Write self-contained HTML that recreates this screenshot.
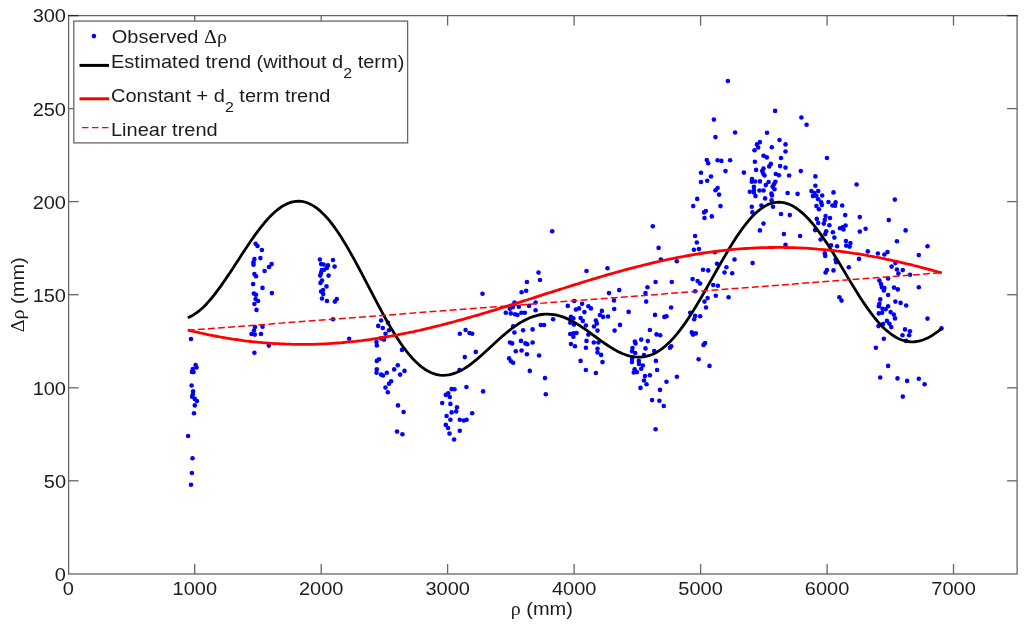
<!DOCTYPE html>
<html><head><meta charset="utf-8"><title>Observed Δρ vs ρ</title>
<style>
html,body{margin:0;padding:0;background:#fff;}
svg{display:block;}
text{font-family:"Liberation Sans",sans-serif;font-size:20px;fill:#1c1c1c;}
.gr{font-family:"Liberation Serif","DejaVu Serif",serif;}
</style></head><body>
<svg width="1024" height="627" viewBox="0 0 1024 627">
<rect x="0" y="0" width="1024" height="627" fill="#fff"/>

<g stroke="#666" stroke-width="1.3" fill="none">
<rect x="68.6" y="15.6" width="948.5" height="558.4"/>
<line x1="194.7" y1="574.0" x2="194.7" y2="564.0"/><line x1="194.7" y1="15.6" x2="194.7" y2="25.6"/>
<line x1="321.2" y1="574.0" x2="321.2" y2="564.0"/><line x1="321.2" y1="15.6" x2="321.2" y2="25.6"/>
<line x1="447.6" y1="574.0" x2="447.6" y2="564.0"/><line x1="447.6" y1="15.6" x2="447.6" y2="25.6"/>
<line x1="574.1" y1="574.0" x2="574.1" y2="564.0"/><line x1="574.1" y1="15.6" x2="574.1" y2="25.6"/>
<line x1="700.6" y1="574.0" x2="700.6" y2="564.0"/><line x1="700.6" y1="15.6" x2="700.6" y2="25.6"/>
<line x1="827.1" y1="574.0" x2="827.1" y2="564.0"/><line x1="827.1" y1="15.6" x2="827.1" y2="25.6"/>
<line x1="953.5" y1="574.0" x2="953.5" y2="564.0"/><line x1="953.5" y1="15.6" x2="953.5" y2="25.6"/>
<line x1="68.6" y1="480.8" x2="78.6" y2="480.8"/><line x1="1017.1" y1="480.8" x2="1007.1" y2="480.8"/>
<line x1="68.6" y1="387.8" x2="78.6" y2="387.8"/><line x1="1017.1" y1="387.8" x2="1007.1" y2="387.8"/>
<line x1="68.6" y1="294.7" x2="78.6" y2="294.7"/><line x1="1017.1" y1="294.7" x2="1007.1" y2="294.7"/>
<line x1="68.6" y1="201.6" x2="78.6" y2="201.6"/><line x1="1017.1" y1="201.6" x2="1007.1" y2="201.6"/>
<line x1="68.6" y1="108.6" x2="78.6" y2="108.6"/><line x1="1017.1" y1="108.6" x2="1007.1" y2="108.6"/>
<g stroke="#2a2a2a"><line x1="68.0" y1="15.6" x2="78.6" y2="15.6"/><line x1="1017.7" y1="15.6" x2="1007.1" y2="15.6"/></g>
</g>
<text transform="translate(68.3,594.7) scale(1,0.96)" text-anchor="middle">0</text>
<text transform="translate(194.8,594.7) scale(1,0.96)" text-anchor="middle">1000</text>
<text transform="translate(321.2,594.7) scale(1,0.96)" text-anchor="middle">2000</text>
<text transform="translate(447.7,594.7) scale(1,0.96)" text-anchor="middle">3000</text>
<text transform="translate(574.2,594.7) scale(1,0.96)" text-anchor="middle">4000</text>
<text transform="translate(700.6,594.7) scale(1,0.96)" text-anchor="middle">5000</text>
<text transform="translate(827.1,594.7) scale(1,0.96)" text-anchor="middle">6000</text>
<text transform="translate(953.6,594.7) scale(1,0.96)" text-anchor="middle">7000</text>
<text transform="translate(66.0,580.8) scale(1,0.96)" text-anchor="end">0</text>
<text transform="translate(66.0,487.7) scale(1,0.96)" text-anchor="end">50</text>
<text transform="translate(66.0,394.7) scale(1,0.96)" text-anchor="end">100</text>
<text transform="translate(66.0,301.6) scale(1,0.96)" text-anchor="end">150</text>
<text transform="translate(66.0,208.5) scale(1,0.96)" text-anchor="end">200</text>
<text transform="translate(66.0,115.5) scale(1,0.96)" text-anchor="end">250</text>
<text transform="translate(66.0,22.4) scale(1,0.96)" text-anchor="end">300</text>
<text transform="translate(541.8,614.9) scale(1,0.96)" text-anchor="middle"><tspan class="gr">ρ</tspan> (mm)</text>
<text transform="translate(23.5,294.8) rotate(-90) scale(1,0.96)" text-anchor="middle"><tspan class="gr">Δρ</tspan> (mm)</text>
<g fill="#0000ff">
<circle cx="191.0" cy="339.0" r="2.3"/>
<circle cx="195.6" cy="365.0" r="2.3"/>
<circle cx="196.5" cy="367.5" r="2.3"/>
<circle cx="192.8" cy="369.0" r="2.3"/>
<circle cx="191.9" cy="371.9" r="2.3"/>
<circle cx="193.5" cy="372.1" r="2.3"/>
<circle cx="255.0" cy="327.1" r="2.3"/>
<circle cx="254.0" cy="330.5" r="2.3"/>
<circle cx="251.5" cy="334.0" r="2.3"/>
<circle cx="254.8" cy="334.6" r="2.3"/>
<circle cx="262.5" cy="326.8" r="2.3"/>
<circle cx="261.0" cy="334.0" r="2.3"/>
<circle cx="268.8" cy="345.6" r="2.3"/>
<circle cx="254.4" cy="352.8" r="2.3"/>
<circle cx="256.5" cy="309.9" r="2.3"/>
<circle cx="254.4" cy="304.0" r="2.3"/>
<circle cx="255.6" cy="243.8" r="2.3"/>
<circle cx="257.5" cy="246.0" r="2.3"/>
<circle cx="261.9" cy="250.0" r="2.3"/>
<circle cx="260.4" cy="258.1" r="2.3"/>
<circle cx="254.4" cy="259.1" r="2.3"/>
<circle cx="253.5" cy="262.2" r="2.3"/>
<circle cx="253.5" cy="264.8" r="2.3"/>
<circle cx="271.6" cy="264.1" r="2.3"/>
<circle cx="269.0" cy="267.0" r="2.3"/>
<circle cx="264.6" cy="271.0" r="2.3"/>
<circle cx="254.4" cy="274.1" r="2.3"/>
<circle cx="256.0" cy="276.2" r="2.3"/>
<circle cx="253.1" cy="284.1" r="2.3"/>
<circle cx="262.5" cy="287.9" r="2.3"/>
<circle cx="271.9" cy="293.1" r="2.3"/>
<circle cx="253.8" cy="293.5" r="2.3"/>
<circle cx="256.0" cy="294.8" r="2.3"/>
<circle cx="255.6" cy="299.1" r="2.3"/>
<circle cx="258.1" cy="301.0" r="2.3"/>
<circle cx="191.6" cy="385.5" r="2.3"/>
<circle cx="193.1" cy="391.4" r="2.3"/>
<circle cx="192.8" cy="394.5" r="2.3"/>
<circle cx="192.1" cy="396.8" r="2.3"/>
<circle cx="194.8" cy="398.9" r="2.3"/>
<circle cx="196.9" cy="401.0" r="2.3"/>
<circle cx="194.8" cy="405.4" r="2.3"/>
<circle cx="194.0" cy="413.2" r="2.3"/>
<circle cx="188.1" cy="436.0" r="2.3"/>
<circle cx="192.5" cy="458.2" r="2.3"/>
<circle cx="191.9" cy="473.0" r="2.3"/>
<circle cx="191.0" cy="484.8" r="2.3"/>
<circle cx="319.9" cy="259.5" r="2.3"/>
<circle cx="333.0" cy="260.0" r="2.3"/>
<circle cx="321.1" cy="264.1" r="2.3"/>
<circle cx="323.6" cy="264.5" r="2.3"/>
<circle cx="328.0" cy="265.4" r="2.3"/>
<circle cx="334.6" cy="266.6" r="2.3"/>
<circle cx="326.8" cy="267.9" r="2.3"/>
<circle cx="321.8" cy="270.0" r="2.3"/>
<circle cx="324.2" cy="269.8" r="2.3"/>
<circle cx="321.1" cy="272.9" r="2.3"/>
<circle cx="320.2" cy="275.6" r="2.3"/>
<circle cx="328.6" cy="275.6" r="2.3"/>
<circle cx="322.0" cy="280.6" r="2.3"/>
<circle cx="320.5" cy="282.9" r="2.3"/>
<circle cx="326.5" cy="286.4" r="2.3"/>
<circle cx="323.0" cy="290.0" r="2.3"/>
<circle cx="321.1" cy="291.6" r="2.3"/>
<circle cx="323.2" cy="294.1" r="2.3"/>
<circle cx="322.0" cy="298.5" r="2.3"/>
<circle cx="327.0" cy="301.0" r="2.3"/>
<circle cx="336.8" cy="299.1" r="2.3"/>
<circle cx="334.9" cy="301.6" r="2.3"/>
<circle cx="333.0" cy="319.2" r="2.3"/>
<circle cx="349.2" cy="338.8" r="2.3"/>
<circle cx="381.1" cy="320.5" r="2.3"/>
<circle cx="388.0" cy="322.8" r="2.3"/>
<circle cx="378.2" cy="325.9" r="2.3"/>
<circle cx="382.8" cy="328.0" r="2.3"/>
<circle cx="389.0" cy="330.2" r="2.3"/>
<circle cx="385.5" cy="333.8" r="2.3"/>
<circle cx="381.1" cy="338.4" r="2.3"/>
<circle cx="384.0" cy="339.6" r="2.3"/>
<circle cx="376.5" cy="342.1" r="2.3"/>
<circle cx="376.8" cy="345.5" r="2.3"/>
<circle cx="402.0" cy="349.9" r="2.3"/>
<circle cx="379.0" cy="359.2" r="2.3"/>
<circle cx="376.8" cy="360.9" r="2.3"/>
<circle cx="397.8" cy="365.2" r="2.3"/>
<circle cx="376.8" cy="369.2" r="2.3"/>
<circle cx="394.2" cy="369.4" r="2.3"/>
<circle cx="404.5" cy="370.9" r="2.3"/>
<circle cx="376.5" cy="372.8" r="2.3"/>
<circle cx="386.8" cy="372.8" r="2.3"/>
<circle cx="381.1" cy="374.6" r="2.3"/>
<circle cx="383.0" cy="375.5" r="2.3"/>
<circle cx="400.1" cy="374.6" r="2.3"/>
<circle cx="391.1" cy="381.2" r="2.3"/>
<circle cx="389.0" cy="383.8" r="2.3"/>
<circle cx="385.5" cy="387.6" r="2.3"/>
<circle cx="387.8" cy="392.2" r="2.3"/>
<circle cx="398.0" cy="405.4" r="2.3"/>
<circle cx="403.6" cy="412.0" r="2.3"/>
<circle cx="397.0" cy="431.6" r="2.3"/>
<circle cx="402.4" cy="434.2" r="2.3"/>
<circle cx="466.4" cy="387.0" r="2.3"/>
<circle cx="451.6" cy="389.1" r="2.3"/>
<circle cx="454.5" cy="389.2" r="2.3"/>
<circle cx="483.1" cy="391.4" r="2.3"/>
<circle cx="545.8" cy="394.2" r="2.3"/>
<circle cx="448.2" cy="393.2" r="2.3"/>
<circle cx="445.8" cy="394.9" r="2.3"/>
<circle cx="449.8" cy="397.0" r="2.3"/>
<circle cx="442.2" cy="403.0" r="2.3"/>
<circle cx="450.4" cy="403.9" r="2.3"/>
<circle cx="457.0" cy="407.2" r="2.3"/>
<circle cx="456.2" cy="411.4" r="2.3"/>
<circle cx="451.6" cy="412.4" r="2.3"/>
<circle cx="472.2" cy="413.2" r="2.3"/>
<circle cx="446.6" cy="416.0" r="2.3"/>
<circle cx="450.4" cy="419.8" r="2.3"/>
<circle cx="459.8" cy="419.8" r="2.3"/>
<circle cx="463.8" cy="420.5" r="2.3"/>
<circle cx="466.6" cy="419.8" r="2.3"/>
<circle cx="445.8" cy="424.9" r="2.3"/>
<circle cx="448.1" cy="428.0" r="2.3"/>
<circle cx="459.8" cy="430.8" r="2.3"/>
<circle cx="449.5" cy="433.6" r="2.3"/>
<circle cx="454.1" cy="439.5" r="2.3"/>
<circle cx="459.8" cy="333.8" r="2.3"/>
<circle cx="465.6" cy="330.0" r="2.3"/>
<circle cx="469.5" cy="333.0" r="2.3"/>
<circle cx="472.2" cy="333.8" r="2.3"/>
<circle cx="475.8" cy="351.9" r="2.3"/>
<circle cx="464.8" cy="357.1" r="2.3"/>
<circle cx="459.5" cy="370.0" r="2.3"/>
<circle cx="509.8" cy="308.8" r="2.3"/>
<circle cx="512.9" cy="307.1" r="2.3"/>
<circle cx="518.8" cy="306.8" r="2.3"/>
<circle cx="529.1" cy="305.9" r="2.3"/>
<circle cx="535.6" cy="310.2" r="2.3"/>
<circle cx="505.8" cy="312.8" r="2.3"/>
<circle cx="510.8" cy="313.4" r="2.3"/>
<circle cx="515.0" cy="314.2" r="2.3"/>
<circle cx="517.5" cy="315.0" r="2.3"/>
<circle cx="521.4" cy="312.8" r="2.3"/>
<circle cx="524.8" cy="312.8" r="2.3"/>
<circle cx="553.1" cy="319.2" r="2.3"/>
<circle cx="513.2" cy="326.2" r="2.3"/>
<circle cx="540.8" cy="325.0" r="2.3"/>
<circle cx="544.1" cy="325.0" r="2.3"/>
<circle cx="532.6" cy="329.4" r="2.3"/>
<circle cx="523.1" cy="330.2" r="2.3"/>
<circle cx="514.4" cy="332.5" r="2.3"/>
<circle cx="521.0" cy="340.9" r="2.3"/>
<circle cx="510.0" cy="342.5" r="2.3"/>
<circle cx="512.2" cy="343.4" r="2.3"/>
<circle cx="525.4" cy="343.4" r="2.3"/>
<circle cx="527.2" cy="344.2" r="2.3"/>
<circle cx="532.6" cy="342.5" r="2.3"/>
<circle cx="515.8" cy="351.2" r="2.3"/>
<circle cx="521.6" cy="350.5" r="2.3"/>
<circle cx="526.9" cy="354.2" r="2.3"/>
<circle cx="539.1" cy="355.5" r="2.3"/>
<circle cx="509.1" cy="358.4" r="2.3"/>
<circle cx="511.0" cy="361.2" r="2.3"/>
<circle cx="513.1" cy="362.8" r="2.3"/>
<circle cx="529.8" cy="370.9" r="2.3"/>
<circle cx="545.0" cy="378.1" r="2.3"/>
<circle cx="552.2" cy="231.2" r="2.3"/>
<circle cx="538.5" cy="272.6" r="2.3"/>
<circle cx="540.0" cy="280.0" r="2.3"/>
<circle cx="526.9" cy="282.0" r="2.3"/>
<circle cx="526.2" cy="290.8" r="2.3"/>
<circle cx="521.6" cy="292.2" r="2.3"/>
<circle cx="482.5" cy="293.8" r="2.3"/>
<circle cx="514.5" cy="302.5" r="2.3"/>
<circle cx="535.6" cy="302.5" r="2.3"/>
<circle cx="652.8" cy="226.2" r="2.3"/>
<circle cx="658.6" cy="247.9" r="2.3"/>
<circle cx="660.9" cy="259.5" r="2.3"/>
<circle cx="676.8" cy="261.2" r="2.3"/>
<circle cx="586.5" cy="271.0" r="2.3"/>
<circle cx="607.5" cy="268.2" r="2.3"/>
<circle cx="655.6" cy="282.0" r="2.3"/>
<circle cx="671.8" cy="282.0" r="2.3"/>
<circle cx="647.5" cy="287.2" r="2.3"/>
<circle cx="619.2" cy="290.1" r="2.3"/>
<circle cx="609.0" cy="293.1" r="2.3"/>
<circle cx="645.5" cy="293.1" r="2.3"/>
<circle cx="614.0" cy="300.4" r="2.3"/>
<circle cx="574.2" cy="301.0" r="2.3"/>
<circle cx="646.2" cy="301.6" r="2.3"/>
<circle cx="582.1" cy="303.8" r="2.3"/>
<circle cx="567.8" cy="305.9" r="2.3"/>
<circle cx="588.4" cy="306.2" r="2.3"/>
<circle cx="590.9" cy="308.4" r="2.3"/>
<circle cx="579.0" cy="308.4" r="2.3"/>
<circle cx="575.9" cy="309.6" r="2.3"/>
<circle cx="584.4" cy="312.1" r="2.3"/>
<circle cx="601.9" cy="310.9" r="2.3"/>
<circle cx="599.9" cy="315.0" r="2.3"/>
<circle cx="603.1" cy="316.9" r="2.3"/>
<circle cx="608.0" cy="316.5" r="2.3"/>
<circle cx="614.2" cy="309.0" r="2.3"/>
<circle cx="628.6" cy="311.9" r="2.3"/>
<circle cx="570.9" cy="316.9" r="2.3"/>
<circle cx="573.4" cy="318.4" r="2.3"/>
<circle cx="580.6" cy="318.0" r="2.3"/>
<circle cx="582.8" cy="320.9" r="2.3"/>
<circle cx="595.9" cy="320.5" r="2.3"/>
<circle cx="596.8" cy="323.4" r="2.3"/>
<circle cx="570.2" cy="322.8" r="2.3"/>
<circle cx="574.0" cy="324.6" r="2.3"/>
<circle cx="585.9" cy="325.5" r="2.3"/>
<circle cx="594.0" cy="326.5" r="2.3"/>
<circle cx="597.5" cy="330.6" r="2.3"/>
<circle cx="620.0" cy="324.9" r="2.3"/>
<circle cx="614.6" cy="330.6" r="2.3"/>
<circle cx="576.5" cy="333.0" r="2.3"/>
<circle cx="573.4" cy="333.4" r="2.3"/>
<circle cx="570.2" cy="334.0" r="2.3"/>
<circle cx="573.4" cy="336.8" r="2.3"/>
<circle cx="588.4" cy="334.6" r="2.3"/>
<circle cx="586.5" cy="340.9" r="2.3"/>
<circle cx="593.8" cy="342.5" r="2.3"/>
<circle cx="598.4" cy="342.5" r="2.3"/>
<circle cx="570.9" cy="344.0" r="2.3"/>
<circle cx="575.0" cy="346.2" r="2.3"/>
<circle cx="585.9" cy="347.8" r="2.3"/>
<circle cx="597.5" cy="348.8" r="2.3"/>
<circle cx="597.5" cy="352.5" r="2.3"/>
<circle cx="601.1" cy="354.9" r="2.3"/>
<circle cx="580.6" cy="360.9" r="2.3"/>
<circle cx="602.5" cy="362.1" r="2.3"/>
<circle cx="585.9" cy="370.0" r="2.3"/>
<circle cx="595.9" cy="373.0" r="2.3"/>
<circle cx="671.1" cy="307.5" r="2.3"/>
<circle cx="655.0" cy="314.9" r="2.3"/>
<circle cx="666.5" cy="316.2" r="2.3"/>
<circle cx="664.4" cy="316.9" r="2.3"/>
<circle cx="690.2" cy="312.8" r="2.3"/>
<circle cx="649.9" cy="330.0" r="2.3"/>
<circle cx="656.5" cy="334.4" r="2.3"/>
<circle cx="660.2" cy="335.2" r="2.3"/>
<circle cx="641.2" cy="339.6" r="2.3"/>
<circle cx="634.9" cy="341.5" r="2.3"/>
<circle cx="635.5" cy="343.4" r="2.3"/>
<circle cx="647.8" cy="341.1" r="2.3"/>
<circle cx="632.5" cy="348.0" r="2.3"/>
<circle cx="645.5" cy="348.4" r="2.3"/>
<circle cx="632.1" cy="351.2" r="2.3"/>
<circle cx="635.2" cy="353.0" r="2.3"/>
<circle cx="654.2" cy="351.1" r="2.3"/>
<circle cx="671.2" cy="346.2" r="2.3"/>
<circle cx="670.0" cy="347.8" r="2.3"/>
<circle cx="644.0" cy="355.0" r="2.3"/>
<circle cx="632.1" cy="359.0" r="2.3"/>
<circle cx="631.9" cy="362.1" r="2.3"/>
<circle cx="655.9" cy="360.9" r="2.3"/>
<circle cx="638.8" cy="360.9" r="2.3"/>
<circle cx="639.0" cy="364.0" r="2.3"/>
<circle cx="642.8" cy="365.5" r="2.3"/>
<circle cx="641.2" cy="368.8" r="2.3"/>
<circle cx="634.6" cy="369.2" r="2.3"/>
<circle cx="633.8" cy="372.5" r="2.3"/>
<circle cx="636.9" cy="372.1" r="2.3"/>
<circle cx="657.1" cy="370.0" r="2.3"/>
<circle cx="649.9" cy="375.2" r="2.3"/>
<circle cx="645.0" cy="376.1" r="2.3"/>
<circle cx="676.9" cy="376.8" r="2.3"/>
<circle cx="644.0" cy="380.5" r="2.3"/>
<circle cx="666.5" cy="381.8" r="2.3"/>
<circle cx="646.5" cy="384.2" r="2.3"/>
<circle cx="640.5" cy="387.9" r="2.3"/>
<circle cx="660.0" cy="389.9" r="2.3"/>
<circle cx="652.1" cy="400.1" r="2.3"/>
<circle cx="659.4" cy="400.8" r="2.3"/>
<circle cx="663.8" cy="406.0" r="2.3"/>
<circle cx="655.6" cy="429.2" r="2.3"/>
<circle cx="727.9" cy="81.0" r="2.3"/>
<circle cx="775.1" cy="110.9" r="2.3"/>
<circle cx="713.9" cy="119.6" r="2.3"/>
<circle cx="801.4" cy="117.5" r="2.3"/>
<circle cx="806.6" cy="124.8" r="2.3"/>
<circle cx="735.1" cy="132.5" r="2.3"/>
<circle cx="767.0" cy="132.8" r="2.3"/>
<circle cx="715.5" cy="137.1" r="2.3"/>
<circle cx="779.5" cy="140.0" r="2.3"/>
<circle cx="759.9" cy="142.1" r="2.3"/>
<circle cx="757.0" cy="144.4" r="2.3"/>
<circle cx="785.5" cy="144.4" r="2.3"/>
<circle cx="771.8" cy="147.2" r="2.3"/>
<circle cx="758.2" cy="147.5" r="2.3"/>
<circle cx="706.8" cy="160.1" r="2.3"/>
<circle cx="708.2" cy="163.2" r="2.3"/>
<circle cx="717.6" cy="160.2" r="2.3"/>
<circle cx="721.4" cy="160.9" r="2.3"/>
<circle cx="730.1" cy="160.2" r="2.3"/>
<circle cx="725.5" cy="171.1" r="2.3"/>
<circle cx="701.0" cy="172.8" r="2.3"/>
<circle cx="711.0" cy="176.5" r="2.3"/>
<circle cx="707.2" cy="180.8" r="2.3"/>
<circle cx="701.0" cy="182.0" r="2.3"/>
<circle cx="743.9" cy="172.6" r="2.3"/>
<circle cx="717.6" cy="188.0" r="2.3"/>
<circle cx="715.5" cy="190.2" r="2.3"/>
<circle cx="719.1" cy="194.6" r="2.3"/>
<circle cx="697.2" cy="198.9" r="2.3"/>
<circle cx="693.2" cy="206.1" r="2.3"/>
<circle cx="720.5" cy="206.1" r="2.3"/>
<circle cx="705.8" cy="211.1" r="2.3"/>
<circle cx="704.1" cy="212.4" r="2.3"/>
<circle cx="711.8" cy="216.4" r="2.3"/>
<circle cx="704.5" cy="218.0" r="2.3"/>
<circle cx="754.5" cy="150.2" r="2.3"/>
<circle cx="785.5" cy="151.5" r="2.3"/>
<circle cx="763.5" cy="155.8" r="2.3"/>
<circle cx="766.8" cy="157.4" r="2.3"/>
<circle cx="781.0" cy="158.0" r="2.3"/>
<circle cx="754.9" cy="161.8" r="2.3"/>
<circle cx="770.8" cy="163.9" r="2.3"/>
<circle cx="769.2" cy="166.4" r="2.3"/>
<circle cx="780.1" cy="166.1" r="2.3"/>
<circle cx="785.5" cy="167.6" r="2.3"/>
<circle cx="756.1" cy="169.9" r="2.3"/>
<circle cx="763.5" cy="168.6" r="2.3"/>
<circle cx="762.2" cy="171.1" r="2.3"/>
<circle cx="763.2" cy="173.6" r="2.3"/>
<circle cx="764.5" cy="175.5" r="2.3"/>
<circle cx="775.8" cy="174.0" r="2.3"/>
<circle cx="778.9" cy="175.2" r="2.3"/>
<circle cx="789.1" cy="175.5" r="2.3"/>
<circle cx="800.8" cy="171.1" r="2.3"/>
<circle cx="752.0" cy="179.0" r="2.3"/>
<circle cx="751.8" cy="181.8" r="2.3"/>
<circle cx="755.1" cy="181.5" r="2.3"/>
<circle cx="759.9" cy="181.4" r="2.3"/>
<circle cx="768.6" cy="182.0" r="2.3"/>
<circle cx="775.4" cy="181.8" r="2.3"/>
<circle cx="773.9" cy="184.2" r="2.3"/>
<circle cx="765.8" cy="185.1" r="2.3"/>
<circle cx="772.6" cy="186.8" r="2.3"/>
<circle cx="753.9" cy="186.8" r="2.3"/>
<circle cx="753.9" cy="189.9" r="2.3"/>
<circle cx="774.5" cy="189.2" r="2.3"/>
<circle cx="759.5" cy="190.5" r="2.3"/>
<circle cx="763.6" cy="190.5" r="2.3"/>
<circle cx="749.8" cy="191.8" r="2.3"/>
<circle cx="753.9" cy="192.4" r="2.3"/>
<circle cx="771.4" cy="193.6" r="2.3"/>
<circle cx="772.0" cy="195.5" r="2.3"/>
<circle cx="755.5" cy="196.1" r="2.3"/>
<circle cx="765.1" cy="198.4" r="2.3"/>
<circle cx="771.6" cy="200.2" r="2.3"/>
<circle cx="787.6" cy="193.0" r="2.3"/>
<circle cx="797.6" cy="193.9" r="2.3"/>
<circle cx="751.8" cy="206.8" r="2.3"/>
<circle cx="761.4" cy="205.5" r="2.3"/>
<circle cx="773.0" cy="206.8" r="2.3"/>
<circle cx="752.4" cy="212.4" r="2.3"/>
<circle cx="781.0" cy="214.0" r="2.3"/>
<circle cx="789.8" cy="215.1" r="2.3"/>
<circle cx="763.5" cy="223.6" r="2.3"/>
<circle cx="815.4" cy="176.4" r="2.3"/>
<circle cx="815.4" cy="185.8" r="2.3"/>
<circle cx="811.4" cy="191.1" r="2.3"/>
<circle cx="818.2" cy="191.1" r="2.3"/>
<circle cx="814.5" cy="193.0" r="2.3"/>
<circle cx="812.9" cy="196.1" r="2.3"/>
<circle cx="816.4" cy="196.1" r="2.3"/>
<circle cx="818.2" cy="199.2" r="2.3"/>
<circle cx="816.4" cy="206.1" r="2.3"/>
<circle cx="818.9" cy="209.2" r="2.3"/>
<circle cx="816.8" cy="218.9" r="2.3"/>
<circle cx="818.2" cy="223.0" r="2.3"/>
<circle cx="695.1" cy="236.0" r="2.3"/>
<circle cx="696.8" cy="242.5" r="2.3"/>
<circle cx="693.9" cy="249.8" r="2.3"/>
<circle cx="698.9" cy="249.1" r="2.3"/>
<circle cx="714.9" cy="252.2" r="2.3"/>
<circle cx="759.9" cy="230.4" r="2.3"/>
<circle cx="783.9" cy="234.1" r="2.3"/>
<circle cx="800.1" cy="236.0" r="2.3"/>
<circle cx="815.8" cy="229.8" r="2.3"/>
<circle cx="785.5" cy="244.8" r="2.3"/>
<circle cx="734.5" cy="259.5" r="2.3"/>
<circle cx="752.6" cy="263.1" r="2.3"/>
<circle cx="717.0" cy="263.8" r="2.3"/>
<circle cx="726.4" cy="267.2" r="2.3"/>
<circle cx="703.0" cy="269.8" r="2.3"/>
<circle cx="708.2" cy="270.4" r="2.3"/>
<circle cx="724.5" cy="272.5" r="2.3"/>
<circle cx="732.2" cy="273.2" r="2.3"/>
<circle cx="692.6" cy="279.1" r="2.3"/>
<circle cx="697.6" cy="281.0" r="2.3"/>
<circle cx="700.1" cy="283.5" r="2.3"/>
<circle cx="713.2" cy="285.0" r="2.3"/>
<circle cx="717.9" cy="285.8" r="2.3"/>
<circle cx="695.1" cy="291.2" r="2.3"/>
<circle cx="715.8" cy="295.8" r="2.3"/>
<circle cx="728.6" cy="297.2" r="2.3"/>
<circle cx="707.6" cy="298.1" r="2.3"/>
<circle cx="704.5" cy="301.6" r="2.3"/>
<circle cx="706.0" cy="307.5" r="2.3"/>
<circle cx="695.1" cy="315.9" r="2.3"/>
<circle cx="700.1" cy="316.2" r="2.3"/>
<circle cx="694.2" cy="319.2" r="2.3"/>
<circle cx="695.8" cy="333.4" r="2.3"/>
<circle cx="693.0" cy="334.6" r="2.3"/>
<circle cx="705.1" cy="343.1" r="2.3"/>
<circle cx="703.5" cy="344.9" r="2.3"/>
<circle cx="698.6" cy="359.2" r="2.3"/>
<circle cx="709.5" cy="365.9" r="2.3"/>
<circle cx="826.9" cy="158.0" r="2.3"/>
<circle cx="856.6" cy="184.5" r="2.3"/>
<circle cx="833.5" cy="192.4" r="2.3"/>
<circle cx="822.2" cy="195.5" r="2.3"/>
<circle cx="894.8" cy="199.6" r="2.3"/>
<circle cx="828.5" cy="202.0" r="2.3"/>
<circle cx="835.6" cy="202.4" r="2.3"/>
<circle cx="821.2" cy="202.4" r="2.3"/>
<circle cx="821.9" cy="204.9" r="2.3"/>
<circle cx="832.5" cy="205.5" r="2.3"/>
<circle cx="835.0" cy="205.8" r="2.3"/>
<circle cx="842.2" cy="205.5" r="2.3"/>
<circle cx="845.2" cy="215.1" r="2.3"/>
<circle cx="859.8" cy="217.1" r="2.3"/>
<circle cx="825.6" cy="216.1" r="2.3"/>
<circle cx="830.0" cy="218.0" r="2.3"/>
<circle cx="824.8" cy="219.9" r="2.3"/>
<circle cx="888.8" cy="220.1" r="2.3"/>
<circle cx="823.8" cy="223.6" r="2.3"/>
<circle cx="829.4" cy="225.2" r="2.3"/>
<circle cx="845.6" cy="225.5" r="2.3"/>
<circle cx="840.0" cy="228.2" r="2.3"/>
<circle cx="843.5" cy="229.5" r="2.3"/>
<circle cx="826.2" cy="231.2" r="2.3"/>
<circle cx="825.2" cy="234.1" r="2.3"/>
<circle cx="832.9" cy="232.2" r="2.3"/>
<circle cx="834.4" cy="237.6" r="2.3"/>
<circle cx="820.6" cy="239.5" r="2.3"/>
<circle cx="859.8" cy="231.6" r="2.3"/>
<circle cx="865.6" cy="228.8" r="2.3"/>
<circle cx="905.6" cy="230.4" r="2.3"/>
<circle cx="845.9" cy="241.0" r="2.3"/>
<circle cx="850.4" cy="243.1" r="2.3"/>
<circle cx="846.2" cy="245.6" r="2.3"/>
<circle cx="849.6" cy="246.6" r="2.3"/>
<circle cx="837.1" cy="246.2" r="2.3"/>
<circle cx="831.0" cy="245.4" r="2.3"/>
<circle cx="896.9" cy="241.2" r="2.3"/>
<circle cx="927.5" cy="246.2" r="2.3"/>
<circle cx="867.8" cy="251.4" r="2.3"/>
<circle cx="877.9" cy="253.5" r="2.3"/>
<circle cx="887.5" cy="252.0" r="2.3"/>
<circle cx="884.4" cy="254.5" r="2.3"/>
<circle cx="918.8" cy="255.1" r="2.3"/>
<circle cx="824.8" cy="253.2" r="2.3"/>
<circle cx="825.2" cy="256.0" r="2.3"/>
<circle cx="859.0" cy="258.9" r="2.3"/>
<circle cx="835.6" cy="259.5" r="2.3"/>
<circle cx="836.2" cy="262.2" r="2.3"/>
<circle cx="895.4" cy="263.1" r="2.3"/>
<circle cx="891.6" cy="266.6" r="2.3"/>
<circle cx="848.8" cy="267.2" r="2.3"/>
<circle cx="896.9" cy="269.5" r="2.3"/>
<circle cx="902.8" cy="270.1" r="2.3"/>
<circle cx="826.9" cy="270.0" r="2.3"/>
<circle cx="825.6" cy="272.5" r="2.3"/>
<circle cx="833.5" cy="270.4" r="2.3"/>
<circle cx="898.4" cy="273.5" r="2.3"/>
<circle cx="910.0" cy="274.8" r="2.3"/>
<circle cx="888.1" cy="278.5" r="2.3"/>
<circle cx="879.4" cy="280.6" r="2.3"/>
<circle cx="881.0" cy="284.1" r="2.3"/>
<circle cx="881.9" cy="287.2" r="2.3"/>
<circle cx="884.4" cy="288.1" r="2.3"/>
<circle cx="883.8" cy="290.4" r="2.3"/>
<circle cx="894.0" cy="287.6" r="2.3"/>
<circle cx="897.8" cy="289.4" r="2.3"/>
<circle cx="918.8" cy="287.2" r="2.3"/>
<circle cx="888.1" cy="295.0" r="2.3"/>
<circle cx="839.4" cy="297.2" r="2.3"/>
<circle cx="841.5" cy="300.6" r="2.3"/>
<circle cx="880.2" cy="299.4" r="2.3"/>
<circle cx="895.4" cy="301.6" r="2.3"/>
<circle cx="900.6" cy="302.9" r="2.3"/>
<circle cx="879.4" cy="303.8" r="2.3"/>
<circle cx="906.2" cy="305.5" r="2.3"/>
<circle cx="878.8" cy="306.2" r="2.3"/>
<circle cx="888.1" cy="306.2" r="2.3"/>
<circle cx="882.5" cy="308.8" r="2.3"/>
<circle cx="885.6" cy="309.2" r="2.3"/>
<circle cx="890.6" cy="312.1" r="2.3"/>
<circle cx="878.8" cy="313.4" r="2.3"/>
<circle cx="882.1" cy="312.8" r="2.3"/>
<circle cx="893.8" cy="314.6" r="2.3"/>
<circle cx="895.0" cy="318.4" r="2.3"/>
<circle cx="886.9" cy="320.9" r="2.3"/>
<circle cx="889.4" cy="323.8" r="2.3"/>
<circle cx="891.2" cy="327.1" r="2.3"/>
<circle cx="883.1" cy="324.0" r="2.3"/>
<circle cx="878.5" cy="326.1" r="2.3"/>
<circle cx="927.5" cy="318.6" r="2.3"/>
<circle cx="941.5" cy="328.4" r="2.3"/>
<circle cx="905.0" cy="329.4" r="2.3"/>
<circle cx="910.0" cy="331.2" r="2.3"/>
<circle cx="909.1" cy="335.2" r="2.3"/>
<circle cx="902.5" cy="335.2" r="2.3"/>
<circle cx="906.2" cy="340.9" r="2.3"/>
<circle cx="883.8" cy="338.8" r="2.3"/>
<circle cx="875.9" cy="347.8" r="2.3"/>
<circle cx="888.1" cy="365.9" r="2.3"/>
<circle cx="880.2" cy="377.5" r="2.3"/>
<circle cx="897.5" cy="378.4" r="2.3"/>
<circle cx="918.8" cy="378.8" r="2.3"/>
<circle cx="907.1" cy="380.9" r="2.3"/>
<circle cx="924.6" cy="384.2" r="2.3"/>
<circle cx="902.8" cy="396.6" r="2.3"/>
<circle cx="691.8" cy="332.4" r="2.3"/>
<circle cx="842.6" cy="227.2" r="2.3"/>
<circle cx="815.1" cy="230.1" r="2.3"/>
</g>
<path d="M187.8,317.7 L190.8,316.4 L193.8,314.7 L196.8,312.7 L199.8,310.3 L202.8,307.7 L205.8,304.7 L208.8,301.4 L211.8,297.9 L214.8,294.2 L217.8,290.2 L220.8,286.1 L223.8,281.8 L226.8,277.4 L229.8,273.0 L232.8,268.4 L235.8,263.8 L238.8,259.2 L241.8,254.6 L244.8,250.0 L247.8,245.5 L250.8,241.0 L253.8,236.7 L256.8,232.6 L259.8,228.6 L262.8,224.8 L265.8,221.2 L268.8,217.9 L271.8,214.8 L274.8,212.0 L277.8,209.5 L280.8,207.3 L283.8,205.4 L286.8,203.9 L289.8,202.7 L292.8,201.8 L295.8,201.3 L298.8,201.2 L301.8,201.4 L304.8,202.0 L307.8,203.0 L310.8,204.4 L313.8,206.1 L316.8,208.2 L319.8,210.6 L322.8,213.4 L325.8,216.5 L328.8,219.9 L331.8,223.6 L334.8,227.7 L337.8,232.0 L340.8,236.6 L343.8,241.4 L346.8,246.4 L349.8,251.6 L352.8,256.9 L355.8,262.4 L358.8,268.0 L361.8,273.6 L364.8,279.4 L367.8,285.1 L370.8,290.9 L373.8,296.7 L376.8,302.4 L379.8,308.0 L382.8,313.6 L385.8,319.0 L388.8,324.3 L391.8,329.4 L394.8,334.3 L397.8,339.0 L400.8,343.5 L403.8,347.7 L406.8,351.6 L409.8,355.3 L412.8,358.7 L415.8,361.8 L418.8,364.6 L421.8,367.1 L424.8,369.2 L427.8,371.0 L430.8,372.5 L433.8,373.7 L436.8,374.6 L439.8,375.1 L442.8,375.3 L445.8,375.2 L448.8,374.9 L451.8,374.2 L454.8,373.2 L457.8,372.0 L460.8,370.6 L463.8,368.9 L466.8,367.0 L469.8,364.9 L472.8,362.6 L475.8,360.2 L478.8,357.6 L481.8,355.0 L484.8,352.3 L487.8,349.5 L490.8,346.7 L493.8,343.9 L496.8,341.2 L499.8,338.5 L502.8,335.8 L505.8,333.3 L508.8,330.8 L511.8,328.5 L514.8,326.3 L517.8,324.3 L520.8,322.4 L523.8,320.7 L526.8,319.2 L529.8,317.8 L532.8,316.7 L535.8,315.8 L538.8,315.0 L541.8,314.5 L544.8,314.2 L547.8,314.1 L550.8,314.3 L553.8,314.6 L556.8,315.2 L559.8,316.0 L562.8,316.9 L565.8,318.1 L568.8,319.4 L571.8,320.9 L574.8,322.6 L577.8,324.4 L580.8,326.3 L583.8,328.3 L586.8,330.4 L589.8,332.6 L592.8,334.8 L595.8,337.0 L598.8,339.2 L601.8,341.4 L604.8,343.5 L607.8,345.5 L610.8,347.4 L613.8,349.2 L616.8,350.9 L619.8,352.4 L622.8,353.7 L625.8,354.8 L628.8,355.8 L631.8,356.5 L634.8,356.9 L637.8,357.1 L640.8,357.1 L643.8,356.8 L646.8,356.2 L649.8,355.3 L652.8,354.2 L655.8,352.7 L658.8,350.9 L661.8,348.9 L664.8,346.5 L667.8,343.8 L670.8,340.9 L673.8,337.7 L676.8,334.2 L679.8,330.4 L682.8,326.4 L685.8,322.1 L688.8,317.7 L691.8,313.0 L694.8,308.2 L697.8,303.3 L700.8,298.2 L703.8,293.0 L706.8,287.7 L709.8,282.4 L712.8,277.1 L715.8,271.8 L718.8,266.5 L721.8,261.2 L724.8,256.1 L727.8,251.0 L730.8,246.0 L733.8,241.2 L736.8,236.6 L739.8,232.2 L742.8,228.0 L745.8,224.1 L748.8,220.4 L751.8,217.0 L754.8,214.0 L757.8,211.3 L760.8,208.9 L763.8,206.8 L766.8,205.1 L769.8,203.8 L772.8,202.9 L775.8,202.3 L778.8,202.1 L781.8,202.3 L784.8,202.9 L787.8,203.8 L790.8,205.0 L793.8,206.6 L796.8,208.5 L799.8,210.8 L802.8,213.3 L805.8,216.2 L808.8,219.3 L811.8,222.7 L814.8,226.4 L817.8,230.3 L820.8,234.4 L823.8,238.7 L826.8,243.1 L829.8,247.8 L832.8,252.5 L835.8,257.4 L838.8,262.3 L841.8,267.3 L844.8,272.3 L847.8,277.4 L850.8,282.4 L853.8,287.3 L856.8,292.1 L859.8,296.9 L862.8,301.5 L865.8,305.9 L868.8,310.1 L871.8,314.2 L874.8,318.0 L877.8,321.6 L880.8,324.9 L883.8,327.9 L886.8,330.7 L889.8,333.2 L892.8,335.3 L895.8,337.2 L898.8,338.8 L901.8,340.0 L904.8,340.9 L907.8,341.5 L910.8,341.8 L913.8,341.8 L916.8,341.5 L919.8,340.9 L922.8,340.0 L925.8,338.8 L928.8,337.4 L931.8,335.7 L934.8,333.7 L937.8,331.6 L940.8,329.2 L941.8,328.4" fill="none" stroke="#000" stroke-width="2.8" stroke-linejoin="round"/>
<path d="M187.8,330.1 L190.8,330.8 L193.8,331.5 L196.8,332.2 L199.8,332.9 L202.8,333.5 L205.8,334.2 L208.8,334.8 L211.8,335.4 L214.8,336.0 L217.8,336.5 L220.8,337.1 L223.8,337.6 L226.8,338.1 L229.8,338.6 L232.8,339.1 L235.8,339.5 L238.8,339.9 L241.8,340.4 L244.8,340.8 L247.8,341.1 L250.8,341.5 L253.8,341.8 L256.8,342.1 L259.8,342.4 L262.8,342.7 L265.8,342.9 L268.8,343.2 L271.8,343.4 L274.8,343.6 L277.8,343.7 L280.8,343.9 L283.8,344.0 L286.8,344.1 L289.8,344.2 L292.8,344.3 L295.8,344.4 L298.8,344.4 L301.8,344.4 L304.8,344.4 L307.8,344.4 L310.8,344.3 L313.8,344.3 L316.8,344.2 L319.8,344.1 L322.8,343.9 L325.8,343.8 L328.8,343.6 L331.8,343.4 L334.8,343.2 L337.8,343.0 L340.8,342.8 L343.8,342.5 L346.8,342.2 L349.8,341.9 L352.8,341.6 L355.8,341.3 L358.8,340.9 L361.8,340.6 L364.8,340.2 L367.8,339.8 L370.8,339.4 L373.8,338.9 L376.8,338.5 L379.8,338.0 L382.8,337.5 L385.8,337.0 L388.8,336.5 L391.8,335.9 L394.8,335.4 L397.8,334.8 L400.8,334.2 L403.8,333.7 L406.8,333.0 L409.8,332.4 L412.8,331.8 L415.8,331.1 L418.8,330.5 L421.8,329.8 L424.8,329.1 L427.8,328.4 L430.8,327.7 L433.8,326.9 L436.8,326.2 L439.8,325.5 L442.8,324.7 L445.8,323.9 L448.8,323.1 L451.8,322.3 L454.8,321.5 L457.8,320.7 L460.8,319.9 L463.8,319.1 L466.8,318.2 L469.8,317.4 L472.8,316.5 L475.8,315.6 L478.8,314.8 L481.8,313.9 L484.8,313.0 L487.8,312.1 L490.8,311.2 L493.8,310.3 L496.8,309.4 L499.8,308.4 L502.8,307.5 L505.8,306.6 L508.8,305.6 L511.8,304.7 L514.8,303.8 L517.8,302.8 L520.8,301.9 L523.8,300.9 L526.8,300.0 L529.8,299.0 L532.8,298.1 L535.8,297.1 L538.8,296.1 L541.8,295.2 L544.8,294.2 L547.8,293.2 L550.8,292.3 L553.8,291.3 L556.8,290.4 L559.8,289.4 L562.8,288.5 L565.8,287.5 L568.8,286.6 L571.8,285.6 L574.8,284.7 L577.8,283.8 L580.8,282.8 L583.8,281.9 L586.8,281.0 L589.8,280.1 L592.8,279.2 L595.8,278.3 L598.8,277.4 L601.8,276.5 L604.8,275.6 L607.8,274.7 L610.8,273.9 L613.8,273.0 L616.8,272.2 L619.8,271.3 L622.8,270.5 L625.8,269.7 L628.8,268.9 L631.8,268.1 L634.8,267.3 L637.8,266.5 L640.8,265.8 L643.8,265.0 L646.8,264.3 L649.8,263.6 L652.8,262.9 L655.8,262.2 L658.8,261.5 L661.8,260.8 L664.8,260.2 L667.8,259.5 L670.8,258.9 L673.8,258.3 L676.8,257.7 L679.8,257.1 L682.8,256.6 L685.8,256.0 L688.8,255.5 L691.8,255.0 L694.8,254.4 L697.8,254.0 L700.8,253.5 L703.8,253.0 L706.8,252.6 L709.8,252.2 L712.8,251.8 L715.8,251.4 L718.8,251.0 L721.8,250.7 L724.8,250.3 L727.8,250.0 L730.8,249.7 L733.8,249.4 L736.8,249.2 L739.8,248.9 L742.8,248.7 L745.8,248.5 L748.8,248.3 L751.8,248.1 L754.8,248.0 L757.8,247.9 L760.8,247.7 L763.8,247.6 L766.8,247.6 L769.8,247.5 L772.8,247.5 L775.8,247.4 L778.8,247.4 L781.8,247.4 L784.8,247.5 L787.8,247.5 L790.8,247.6 L793.8,247.7 L796.8,247.8 L799.8,247.9 L802.8,248.1 L805.8,248.2 L808.8,248.4 L811.8,248.6 L814.8,248.8 L817.8,249.1 L820.8,249.3 L823.8,249.6 L826.8,249.9 L829.8,250.2 L832.8,250.5 L835.8,250.9 L838.8,251.2 L841.8,251.6 L844.8,252.0 L847.8,252.4 L850.8,252.8 L853.8,253.3 L856.8,253.7 L859.8,254.2 L862.8,254.7 L865.8,255.2 L868.8,255.8 L871.8,256.3 L874.8,256.9 L877.8,257.4 L880.8,258.0 L883.8,258.6 L886.8,259.3 L889.8,259.9 L892.8,260.6 L895.8,261.2 L898.8,261.9 L901.8,262.6 L904.8,263.3 L907.8,264.0 L910.8,264.7 L913.8,265.5 L916.8,266.2 L919.8,267.0 L922.8,267.8 L925.8,268.6 L928.8,269.4 L931.8,270.2 L934.8,271.0 L937.8,271.9 L940.8,272.7 L941.8,273.0" fill="none" stroke="#ff0000" stroke-width="2.8" stroke-linejoin="round"/>
<line x1="187.8" y1="330.3" x2="941.8" y2="272.7" stroke="#ff0000" stroke-width="1.5" stroke-dasharray="6.9,3.2"/>
<rect x="73.8" y="21.1" width="333.8" height="121.8" fill="#fff" stroke="#666" stroke-width="1.3"/>
<circle cx="93.9" cy="36.1" r="2.3" fill="#0000ff"/>
<line x1="79.5" y1="65.4" x2="109" y2="65.4" stroke="#000" stroke-width="3"/>
<line x1="79.5" y1="98.8" x2="109" y2="98.8" stroke="#ff0000" stroke-width="3"/>
<line x1="82" y1="127.6" x2="109" y2="127.6" stroke="#ff0000" stroke-width="1.2" stroke-dasharray="6.5,3.5"/>
<text transform="translate(111.8,43.0) scale(1,0.96)" text-anchor="start">Observed <tspan class="gr">Δρ</tspan></text>
<text transform="translate(111.0,68.2) scale(1,0.96)" text-anchor="start">Estimated trend (without d<tspan dy="10" font-size="16">2</tspan><tspan dy="-10"> term)</tspan></text>
<text transform="translate(111.0,102.3) scale(1,0.96)" text-anchor="start">Constant + d<tspan dy="10" font-size="16">2</tspan><tspan dy="-10"> term trend</tspan></text>
<text transform="translate(111.0,136.0) scale(1,0.96)" text-anchor="start">Linear trend</text>
</svg></body></html>
